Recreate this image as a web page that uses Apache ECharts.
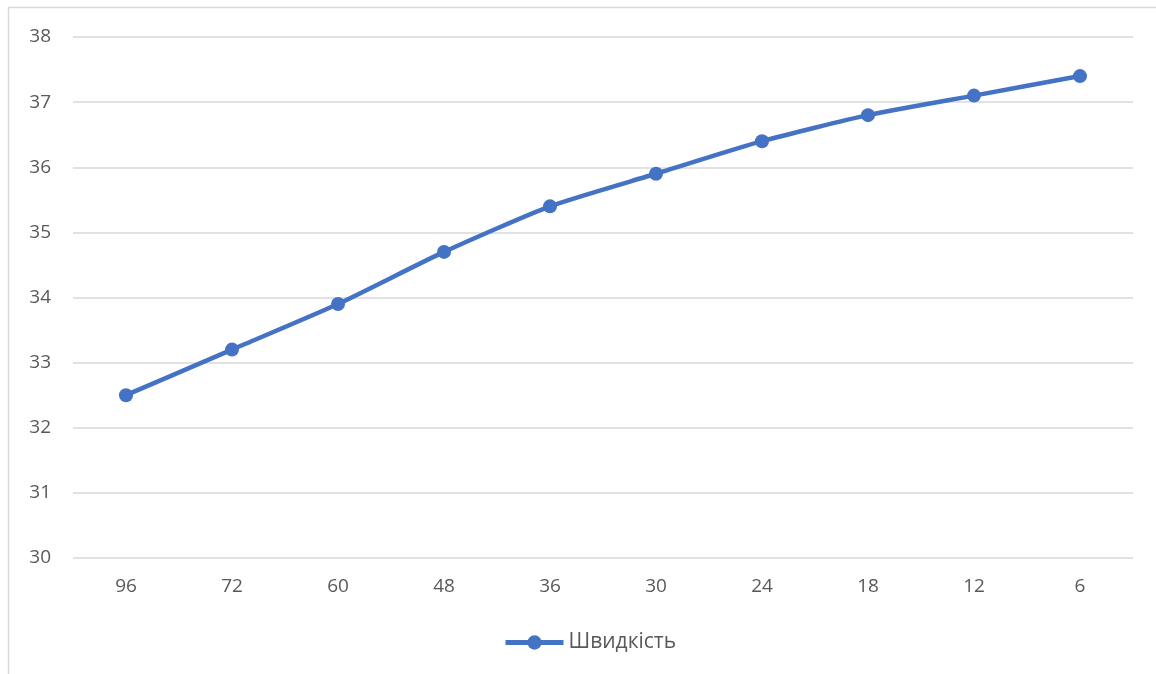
<!DOCTYPE html>
<html><head><meta charset="utf-8">
<script src="https://cdn.jsdelivr.net/npm/echarts@6/dist/echarts.min.js"></script>
<style>html,body{margin:0;padding:0;background:#fff}#c{width:1156px;height:674px}</style>
</head><body><div id="c"></div>
<script>
const categories = ['96','72','60','48','36','30','24','18','12','6'];
const speed = [32.5,33.2,33.9,34.7,35.4,35.9,36.4,36.8,37.1,37.4];
const seriesName = 'Швидкість';
const chart = echarts.init(document.getElementById('c'));
const font = '"Open Sans", "Noto Sans", sans-serif';
chart.setOption({
  animation:false,
  graphic:[{type:'rect',shape:{x:8.5,y:7.5,width:1200,height:700},style:{fill:'none',stroke:'#d9d9d9',lineWidth:1.5},silent:true}],
  grid:{left:73,right:23,top:37,bottom:116,containLabel:false},
  legend:{bottom:16,left:498,itemWidth:58,itemHeight:18,itemGap:4,
    lineStyle:{width:5},
    textStyle:{color:'#595959',fontSize:21,fontFamily:font},data:[seriesName]},
  xAxis:{type:'category',data:categories,boundaryGap:true,
    axisLine:{show:false},axisTick:{show:false},
    axisLabel:{color:'#595959',fontSize:19,fontFamily:font,margin:19}},
  yAxis:{type:'value',min:30,max:38,interval:1,
    axisLine:{show:false},axisTick:{show:false},
    axisLabel:{color:'#595959',fontSize:19,fontFamily:font,margin:22},
    splitLine:{lineStyle:{color:'#d9d9d9',width:1.5}}},
  series:[{name:seriesName,type:'line',data:speed,smooth:0.2,
    symbol:'circle',symbolSize:14,
    lineStyle:{color:'#4472C4',width:4.5},
    itemStyle:{color:'#4472C4'}}]
});
</script></body></html>
